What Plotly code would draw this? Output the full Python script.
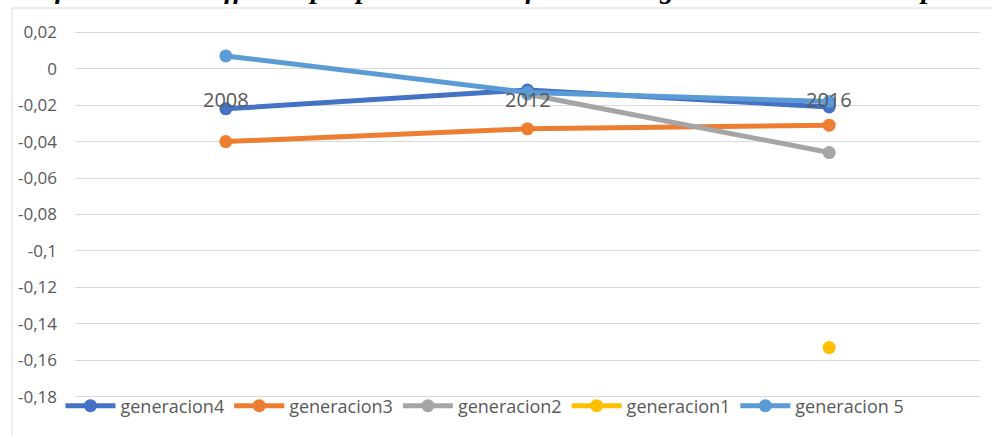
import plotly.graph_objects as go

# ---- data ----
categories = ["2008", "2012", "2016"]
gen4 = [-0.022, -0.0117, -0.021]
gen3 = [-0.040, -0.033, -0.031]
gen2 = [None, -0.014, -0.046]
gen1 = [None, None, -0.153]
gen5 = [0.007, -0.013, -0.018]
series_names = ["generacion4", "generacion3", "generacion2", "generacion1", "generacion 5"]
series_colors = ["#4472C4", "#ED7D31", "#A5A5A5", "#FFC000", "#5B9BD5"]
ytick_vals = [0.02, 0, -0.02, -0.04, -0.06, -0.08, -0.1, -0.12, -0.14, -0.16, -0.18]
ytick_text = ["0,02", "0", "-0,02", "-0,04", "-0,06", "-0,08", "-0,1", "-0,12", "-0,14", "-0,16", "-0,18"]
title_text = "Gráfica 3. Trade-off de cupos por sector en efectos intangibles a través del tiempo"

FONT = "Open Sans"
GREY = "#595959"

fig = go.Figure()
for name, vals, col in zip(series_names, [gen4, gen3, gen2, gen1, gen5], series_colors):
    fig.add_trace(go.Scatter(
        x=categories, y=vals, name=name, mode="lines+markers",
        line=dict(color=col, width=5), marker=dict(color=col, size=13),
        connectgaps=False,
    ))

# category labels sitting next to the horizontal axis (crossing at 0)
for i, c in enumerate(categories):
    fig.add_annotation(x=i, y=0, xref="x", yref="y", text=c, showarrow=False,
                       yanchor="top", yshift=-15,
                       font=dict(family=FONT, size=20, color=GREY))

# cut-off title at the very top
fig.add_annotation(x=0, y=1, xref="paper", yref="paper", xanchor="left", yanchor="bottom",
                   xshift=-67, yshift=8, text="<b><i>" + title_text + "</i></b>", showarrow=False,
                   font=dict(family="Liberation Serif", size=28, color="#000000"))

# outer chart border
fig.add_shape(type="rect", xref="paper", yref="paper",
              x0=(12 - 75) / 905, x1=1.2, y0=-0.2, y1=(416 - 8) / 402,
              line=dict(color="#D9D9D9", width=1), fillcolor="rgba(0,0,0,0)", layer="below")

fig.update_layout(
    width=992, height=435,
    margin=dict(l=75, r=12, t=14, b=19),
    paper_bgcolor="white", plot_bgcolor="white",
    font=dict(family=FONT, color=GREY),
    showlegend=True,
    legend=dict(orientation="h", x=0.453, xanchor="center", y=0.025, yanchor="middle",
                font=dict(family=FONT, size=18, color=GREY), bgcolor="rgba(0,0,0,0)",
                itemwidth=50, tracegroupgap=0),
    xaxis=dict(type="category", range=[-0.5, 2.5], showticklabels=False, showgrid=False,
               zeroline=False, showline=False, ticks=""),
    yaxis=dict(range=[-0.19, 0.03], tickvals=ytick_vals, ticktext=ytick_text,
               showgrid=True, gridcolor="#D9D9D9", gridwidth=1, zeroline=False,
               showline=False, ticks="", ticklabelstandoff=17,
               tickfont=dict(family=FONT, size=17, color=GREY)),
)

fig.write_html("out.html")
